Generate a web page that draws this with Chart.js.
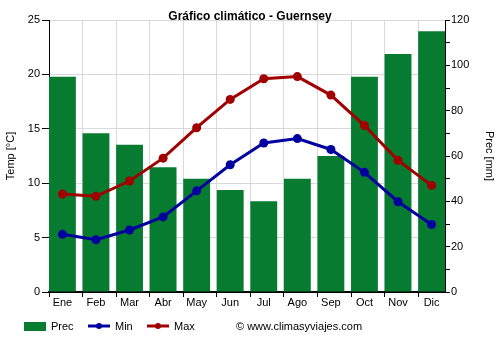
<!DOCTYPE html>
<html>
<head>
<meta charset="utf-8">
<script src="https://cdn.jsdelivr.net/npm/chart.js@4/dist/chart.umd.min.js"></script>
<style>
  html, body { margin: 0; padding: 0; background: #fff; }
</style>
</head>
<body>
<canvas id="c" width="500" height="350"></canvas>
<script>
// Monthly climate data for Guernsey
const months   = ['Ene', 'Feb', 'Mar', 'Abr', 'May', 'Jun', 'Jul', 'Ago', 'Sep', 'Oct', 'Nov', 'Dic'];
const precMm   = [95, 70, 65, 55, 50, 45, 40, 50, 60, 95, 105, 115];
const tempMin  = [5.3, 4.8, 5.7, 6.9, 9.3, 11.7, 13.7, 14.1, 13.1, 11.0, 8.3, 6.2];
const tempMax  = [9.0, 8.8, 10.2, 12.3, 15.1, 17.7, 19.6, 19.8, 18.1, 15.3, 12.1, 9.8];
const tempTicks = [0, 5, 10, 15, 20, 25];
const precTicks = [0, 10, 20, 30, 40, 50, 60, 70, 80, 90, 100, 110, 120];

const FONT = '"Liberation Sans", Arial, sans-serif';
const BLACK = '#000';
const GRID = '#d9d9d9';
const GREEN = '#077b30';
const BLUE = '#0000a0';
const RED = '#a00000';

// month index -> point, so bars and lines share one linear x scale
const toPoints = arr => arr.map((v, i) => ({ x: i, y: v }));
const HALF_BAR = 0.4;

// Title, legend and credit line drawn on the canvas
const decorations = {
  id: 'decorations',
  afterDraw(chart) {
    const ctx = chart.ctx;
    ctx.save();
    ctx.fillStyle = BLACK;
    ctx.font = 'bold 12px ' + FONT;
    ctx.textAlign = 'center';
    ctx.textBaseline = 'middle';
    ctx.fillText('Gráfico climático - Guernsey', chart.width / 2, 17);

    const y = 326;
    ctx.font = '11px ' + FONT;
    ctx.textAlign = 'left';
    const ds = chart.data.datasets;
    const slots = [24, 88, 147];
    ds.forEach((d, i) => {
      const x = slots[i];
      if (d.type === 'bar') {
        ctx.fillStyle = d.backgroundColor;
        ctx.fillRect(x, y - 4, 22, 9);
      } else {
        ctx.strokeStyle = d.borderColor;
        ctx.lineWidth = 3;
        ctx.beginPath();
        ctx.moveTo(x, y);
        ctx.lineTo(x + 22, y);
        ctx.stroke();
        ctx.fillStyle = d.borderColor;
        ctx.beginPath();
        ctx.arc(x + 11, y, 3, 0, Math.PI * 2);
        ctx.fill();
      }
      ctx.fillStyle = BLACK;
      ctx.fillText(d.label, x + 27, y + 1);
    });
    ctx.fillText('© www.climasyviajes.com', 236, y + 1);
    ctx.restore();
  }
};

new Chart(document.getElementById('c'), {
  type: 'bar',
  data: {
    datasets: [
      {
        type: 'bar', label: 'Prec', data: toPoints(precMm),
        xAxisID: 'x', yAxisID: 'y1',
        backgroundColor: GREEN, borderWidth: 0,
        barPercentage: 0.8, categoryPercentage: 1, order: 3
      },
      {
        type: 'line', label: 'Min', data: toPoints(tempMin),
        xAxisID: 'x', yAxisID: 'y',
        borderColor: BLUE, backgroundColor: BLUE, borderWidth: 3,
        pointRadius: 4.5, pointBorderWidth: 0, pointBackgroundColor: BLUE,
        tension: 0, order: 1
      },
      {
        type: 'line', label: 'Max', data: toPoints(tempMax),
        xAxisID: 'x', yAxisID: 'y',
        borderColor: RED, backgroundColor: RED, borderWidth: 3,
        pointRadius: 4.5, pointBorderWidth: 0, pointBackgroundColor: RED,
        tension: 0, order: 2
      }
    ]
  },
  options: {
    responsive: false,
    animation: false,
    devicePixelRatio: 1,
    layout: { padding: { top: 20, left: 0, right: 0, bottom: 34 } },
    plugins: { legend: { display: false }, tooltip: { enabled: false } },
    scales: {
      // month labels under each bar
      x: {
        type: 'linear', position: 'bottom', weight: 1,
        min: -HALF_BAR, max: months.length - 1 + HALF_BAR,
        offset: false,
        afterBuildTicks: s => { s.ticks = months.map((_, i) => ({ value: i })); },
        ticks: {
          callback: v => months[v], color: BLACK, font: { family: FONT, size: 11 },
          padding: 4, autoSkip: false, maxRotation: 0
        },
        grid: { display: false, drawTicks: false, offset: false },
        border: { display: false },
        afterFit: s => { s.height = 24; }
      },
      // vertical gridlines and tick marks at the left edge of each bar
      xGrid: {
        type: 'linear', position: 'bottom', weight: 0,
        min: -HALF_BAR, max: months.length - 1 + HALF_BAR,
        offset: false,
        afterBuildTicks: s => { s.ticks = months.map((_, i) => ({ value: i - HALF_BAR })); },
        ticks: { display: false },
        grid: { color: GRID, tickColor: BLACK, tickLength: 5, offset: false },
        border: { color: BLACK, width: 2 },
        afterFit: s => { s.height = 0; }
      },
      y: {
        type: 'linear', position: 'left', min: 0, max: 25,
        afterBuildTicks: s => { s.ticks = tempTicks.map(v => ({ value: v })); },
        ticks: { color: BLACK, font: { family: FONT, size: 11 }, padding: 2 },
        grid: { color: GRID, tickColor: BLACK, tickLength: 7 },
        border: { color: BLACK, width: 1 },
        title: { display: true, text: 'Temp [°C]', color: BLACK, font: { family: FONT, size: 11 } },
        afterFit: s => { s.width = 49; }
      },
      y1: {
        type: 'linear', position: 'right', min: 0, max: 120,
        afterBuildTicks: s => { s.ticks = precTicks.map(v => ({ value: v })); },
        ticks: {
          color: BLACK, font: { family: FONT, size: 11 }, padding: 1, autoSkip: false,
          callback: v => (v % 20 === 0 ? v : '')
        },
        grid: { drawOnChartArea: false, tickColor: BLACK, tickLength: 5 },
        border: { color: BLACK, width: 1 },
        title: { display: true, text: 'Prec [mm]', color: BLACK, font: { family: FONT, size: 11 } },
        afterFit: s => { s.width = 55; }
      }
    }
  },
  plugins: [decorations]
});
</script>
</body>
</html>
